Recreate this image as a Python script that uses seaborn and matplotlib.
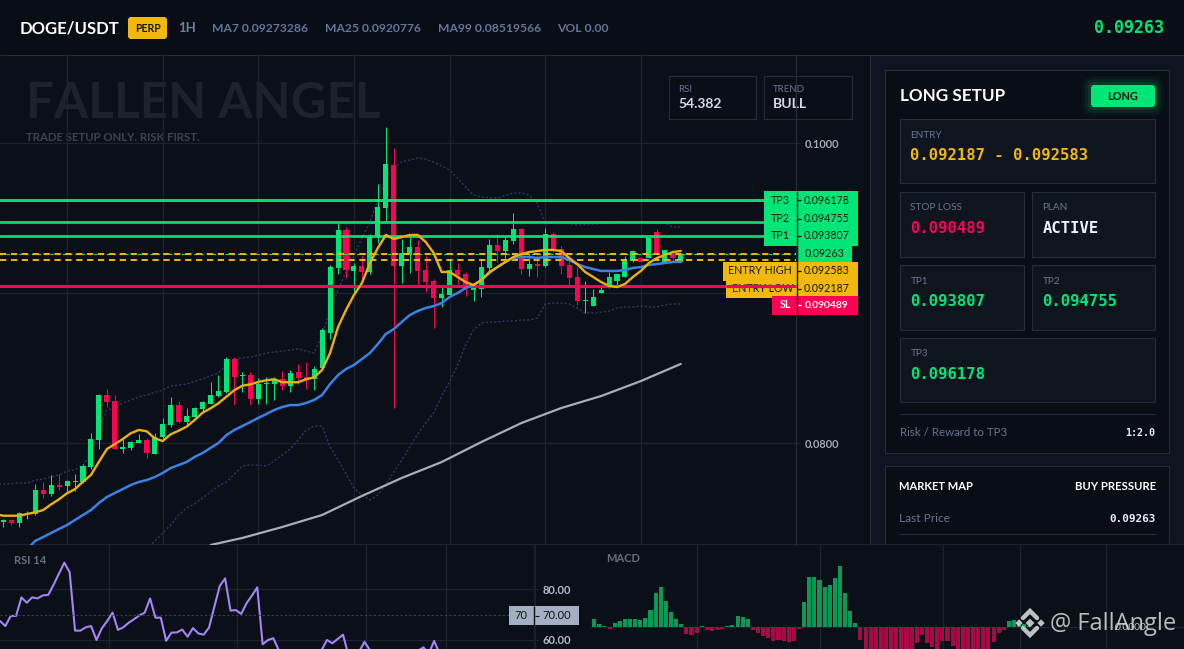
import numpy as np
import pandas as pd
import matplotlib
matplotlib.use("Agg")
import matplotlib.pyplot as plt
from matplotlib.patches import Rectangle, FancyBboxPatch
import seaborn as sns

# Candles, prices in 1e-5 USDT
open_ = [7475,7487,7467,7529,7527,7687,7658,7720,7713,7740,7742,7838,8020,8320,8280,7960,7967,8000,8020,7927,
         8040,8120,8253,8140,8173,8227,8260,8313,8340,8560,8449,8453,8293,8393,8393,8427,8380,8473,8440,8427,
         8500,8733,9167,9420,9147,9180,9140,9373,9567,9853,9180,9253,9307,9153,9080,8967,8987,9153,9127,9020,
         9027,9167,9320,9280,9347,9427,9160,9193,9180,9393,9293,9187,9107,8947,8913,9000,9033,9080,9107,9213,
         9233,9233,9407,9207,9260,9207]
high = [7493,7493,7540,7545,7727,7738,7787,7791,7753,7793,7860,8065,8327,8358,8320,8038,8013,8060,8033,8065,
        8165,8307,8280,8233,8242,8280,8407,8453,8573,8573,8473,8473,8433,8440,8440,8480,8487,8527,8540,8513,
        8767,9187,9469,9440,9200,9247,9393,9727,10107,9967,9360,9373,9353,9247,9093,9040,9220,9200,9140,9067,
        9220,9360,9393,9373,9533,9433,9267,9253,9433,9407,9313,9247,9173,9080,9027,9053,9140,9127,9247,9287,
        9233,9367,9427,9287,9287,9267]
low = [7442,7453,7442,7493,7520,7633,7647,7687,7669,7682,7731,7825,7960,8242,7960,7933,7953,8000,7900,7927,
       8027,8109,8133,8113,8173,8198,8260,8307,8333,8253,8340,8253,8260,8260,8287,8353,8340,8393,8360,8353,
       8487,8693,9127,9100,9007,9093,9127,9333,9480,8233,9067,9133,9053,9007,8767,8907,8987,9060,8980,8947,
       8973,9127,9207,9207,9327,9127,9113,9107,9173,9273,9127,9047,8920,8867,8913,9000,9033,9047,9107,9207,
       9207,9233,9260,9207,9207,9207]
close = [7487,7465,7531,7535,7687,7660,7720,7707,7747,7747,7847,8027,8320,8273,7960,7973,8007,8020,7933,8042,
         8127,8253,8140,8180,8233,8273,8320,8347,8560,8440,8455,8293,8393,8400,8420,8380,8467,8433,8420,8493,
         8753,9173,9420,9153,9180,9140,9380,9573,9860,9180,9267,9307,9147,9073,8967,8993,9153,9120,9033,9033,
         9173,9320,9280,9353,9427,9160,9193,9180,9393,9280,9180,9100,8947,8953,8973,9020,9107,9127,9227,9280,
         9207,9367,9267,9287,9233,9263]

# MA7 starts one candle left of the first visible candle
ma7 = [7527,7515,7515,7515,7527,7538,7553,7591,7625,7665,7693,7742,7787,7875,7960,7993,8027,8065,8087,8078,
       8031,8013,8058,8082,8109,8153,8202,8231,8265,8309,8353,8382,8391,8407,8418,8425,8405,8405,8405,8425,
       8438,8487,8600,8773,8887,8987,9067,9200,9300,9387,9360,9373,9387,9387,9340,9267,9140,9140,9107,9073,
       9053,9087,9140,9173,9207,9240,9260,9273,9280,9287,9287,9280,9233,9193,9140,9107,9073,9047,9040,9060,
       9107,9147,9200,9233,9253,9273,9280]
ma25 = [7293,7347,7373,7400,7427,7453,7487,7520,7553,7600,7640,7667,7693,7720,7740,7753,7773,7800,7833,7853,
        7873,7907,7933,7967,8000,8053,8087,8113,8140,8167,8193,8220,8240,8253,8253,8267,8287,8320,8393,8453,
        8493,8520,8560,8600,8660,8727,8760,8807,8853,8880,8900,8913,8933,8973,9000,9033,9053,9087,9133,9173,
        9207,9233,9240,9240,9233,9240,9240,9240,9220,9193,9173,9160,9147,9147,9147,9153,9167,9173,9187,9193,
        9200,9207,9207]
ma99_idx = [26,30,35,40,45,50,55,60,65,70,75,80,85]
ma99 = [7320,7367,7440,7520,7647,7767,7873,8007,8133,8233,8313,8413,8527]
upper_idx = [-1,0,2,3,4,5,7,8,9,10,11,12,13,14,15,17,18,20,21,23,25,27,28,29,31,33,35,37,39,40,41,42,43,44,45,46,47,48,
             49,50,51,52,53,54,55,56,57,58,59,60,62,64,65,66,67,68,69,70,72,76,79,83,84,85]
upper = [7727,7727,7733,7733,7753,7760,7787,7813,7820,7853,7933,8087,8220,8233,8267,8307,8320,8353,8380,8393,8427,
         8467,8520,8560,8573,8600,8613,8627,8600,8720,8887,9020,9140,9247,9367,9473,9620,9773,9840,9873,9887,9900,
         9893,9873,9847,9820,9767,9707,9653,9640,9633,9667,9667,9653,9600,9460,9467,9473,9453,9467,9473,9467,9440,9440]
lower = [7287,7347,7400,7453,7520,7567,7593,7633,7673,7713,7740,7793,7847,7853,7853,7847,7880,7920,7960,8020,8087,
         8113,8113,7973,7887,7793,7700,7653,7620,7653,7720,7807,7887,7973,8060,8133,8200,8313,8407,8520,8653,8753,
         8800,8807,8807,8813,8813,8820,8820,8833,8927,8933,8933,8927,8900,8867,8867,8873,8880,8900,8907,8907,8913,
         8907,8907,8920,8927,8927]

rsi = [67.5,65.5,69.5,69.5,76.8,74.7,76.8,76.4,77.6,77.8,81.8,86.2,90.5,86.7,63.7,63.7,65.0,65.5,60.0,64.6,
       67.5,70.8,64.0,65.0,66.8,68.2,69.7,70.8,76.4,68.8,68.8,59.7,62.9,63.0,64.1,61.3,64.7,62.6,62.1,64.9,
       73.2,81.3,84.3,71.6,71.8,70.3,74.5,77.5,80.8,58.3,60.0,60.7,56.0,55.0,54.0,53.0,54.0,52.0,53.0,54.0,
       56.0,60.0,58.7,60.4,62.1,54.0,51.0,55.4,59.3,56.0,52.0,51.0,52.0,53.0,52.0,51.0,53.0,54.0,55.8,57.1,
       54.7,59.6,54.7]
macd_hist = [25,10,4,-4,13,19,25,25,25,22,28,52,103,121,79,46,25,10,-20,-23,-17,4,-8,-11,-8,-6,4,7,34,31,25,
             -8,-17,-26,-32,-41,-38,-41,-44,-41,-5,76,151,151,142,121,127,148,184,103,49,13,-38,-68,-70,-75,-80,
             -78,-80,-80,-80,-75,-78,-47,-23,-47,-59,-70,-41,-41,-56,-70,-72,-72,-72,-72,-72,-70,-44,-17,-8,
             19,22,13,9,4]

entry_high, entry_low = 0.092583, 0.092187
stop_loss = 0.090489
tp_levels = [0.093807, 0.094755, 0.096178]
last_price = 0.09263
price_ticks = [0.10, 0.09, 0.08]

W, H = 1184, 649
BG = "#0a0f18"
GRID = "#1c222e"
BORDER = "#252d3d"
GREEN = "#00e676"
RED = "#ff0055"
YELLOW = "#f0b90b"
MUTED = "#66758f"

sns.set_theme(style="dark")
plt.rcParams["font.family"] = ["Lato", "DejaVu Sans"]
MONO = "DejaVu Sans Mono"

fig = plt.figure(figsize=(W / 100, H / 100), dpi=100, facecolor=BG)


def px_axes(x0, y0, x1, y1, zorder):
    ax = fig.add_axes([x0 / W, 1 - y1 / H, (x1 - x0) / W, (y1 - y0) / H], zorder=zorder)
    ax.patch.set_alpha(0)
    ax.grid(False)
    return ax


def box(ax, x0, y0, x1, y1, fc, ec="none", lw=1.0, **kw):
    ax.add_patch(Rectangle((x0, y0), x1 - x0, y1 - y0, fc=fc, ec=ec, lw=lw, **kw))


def badge(ax, x0, y0, x1, y1, fc, rad=3, **kw):
    ax.add_patch(FancyBboxPatch((x0 + rad, y0 + rad), x1 - x0 - 2 * rad, y1 - y0 - 2 * rad,
                                boxstyle=f"round,pad={rad},rounding_size={rad}", fc=fc, ec="none", **kw))


# Page layer: header, side cards
bg = px_axes(0, 0, W, H, -1)
bg.set_xlim(0, W)
bg.set_ylim(H, 0)
bg.axis("off")
box(bg, 0, 0, W, 55, "#090d16")
bg.hlines(55, 0, W, color=BORDER, lw=0.8)
box(bg, 870, 55, W, 545, "#0e1420")
bg.vlines(870, 55, 545, color=BORDER, lw=0.8)

bg.text(20, 28, "DOGE/USDT", color="white", fontsize=12, fontweight="bold", va="center")
badge(bg, 128, 17, 167, 39, YELLOW)
bg.text(147.5, 28, "PERP", color="#15120a", fontsize=7.6, fontweight="bold", va="center", ha="center")
bg.text(178, 27.5, "1H", color="#6d80a3", fontsize=9.5, fontweight="bold", va="center")
for x, s in [(212, "MA7 0.09273286"), (325, "MA25 0.0920776"), (438, "MA99 0.08519566"), (557, "VOL 0.00")]:
    bg.text(x, 28, s, color="#64779a", fontsize=8.7, fontweight="bold", va="center")
bg.text(1164, 28, "0.09263", color=GREEN, fontsize=12, fontweight="bold", family=MONO, va="center", ha="right")

bg.text(26, 103, "FALLEN ANGEL", color="#1c222c", fontsize=35.6, fontweight="bold", va="center")
bg.text(26, 137.5, "TRADE SETUP ONLY. RISK FIRST.", color="#3d4450", fontsize=8.2, fontweight="bold", va="center")

for x0, x1, head, val in [(669, 756, "RSI", "54.382"), (764, 852, "TREND", "BULL")]:
    box(bg, x0 - 0.5, 76, x1 - 0.5, 119, "#0a0e17", BORDER, 0.8)
    bg.text(x0 + 9, 89, head, color=MUTED, fontsize=7, va="center")
    bg.text(x0 + 9, 104, val, color="#d5dbe6", fontsize=10, fontweight="bold", va="center")

box(bg, 885, 70, 1169, 453, "#090d16", BORDER, 0.8)
bg.text(900, 96, "LONG SETUP", color="white", fontsize=12.3, fontweight="bold", va="center")
for grow, alpha in [(9, 0.05), (6, 0.07), (3, 0.1)]:
    badge(bg, 1091 - grow, 85 - grow, 1155 + grow, 107 + grow, GREEN, rad=3 + grow, alpha=alpha)
badge(bg, 1091, 85, 1155, 107, GREEN)
bg.text(1123, 96, "LONG", color="#06140d", fontsize=7.8, fontweight="bold", va="center", ha="center")

cards = [(899.5, 119, 1154.5, 183, "ENTRY", "0.092187 - 0.092583", YELLOW),
         (899.5, 192, 1023.5, 256.5, "STOP LOSS", "0.090489", RED),
         (1031.5, 192, 1154.5, 256.5, "PLAN", "ACTIVE", "#f0f4fa"),
         (899.5, 265, 1023.5, 329.5, "TP1", "0.093807", GREEN),
         (1031.5, 265, 1154.5, 329.5, "TP2", "0.094755", GREEN),
         (899.5, 338, 1154.5, 402, "TP3", "0.096178", GREEN)]
for x0, y0, x1, y1, head, val, col in cards:
    box(bg, x0, y0, x1, y1, "#0f151f", BORDER, 0.8)
    bg.text(x0 + 11, y0 + 16, head, color=MUTED, fontsize=7.2, va="center")
    bg.text(x0 + 11, y0 + 36.5, val, color=col, fontsize=11.2, fontweight="bold", family=MONO, va="center")
bg.hlines(414, 900, 1155, color=BORDER, lw=0.8)
bg.text(900, 432, "Risk / Reward to TP3", color=MUTED, fontsize=8.3, va="center")
bg.text(1155, 432.5, "1:2.0", color="#e8edf5", fontsize=7.2, fontweight="bold", family=MONO, va="center", ha="right")

box(bg, 885, 466, 1169, 560, "#090d16", BORDER, 0.8)
bg.text(899, 487, "MARKET MAP", color="white", fontsize=8, fontweight="bold", va="center")
bg.text(1156, 487, "BUY PRESSURE", color="white", fontsize=8.2, fontweight="bold", va="center", ha="right")
bg.text(899, 519, "Last Price", color=MUTED, fontsize=8.6, va="center")
bg.text(1156, 519, "0.09263", color="#e8edf5", fontsize=7.9, fontweight="bold", family=MONO, va="center", ha="right")
bg.hlines(534, 899, 1156, color=BORDER, lw=0.8)
box(bg, 0, 544, W, H, BG)
bg.hlines(544, 0, W, color=GRID, lw=0.8)

# Main price chart
ax = px_axes(0, 55, 796, 545, 2)
candles = pd.DataFrame({"open": open_, "high": high, "low": low, "close": close}) / 1e5
candles["i"] = np.arange(len(candles))
up = candles["close"] >= candles["open"]
for mask, col in [(up, GREEN), (~up, RED)]:
    part = candles[mask]
    ax.vlines(part["i"], part["low"], part["high"], color=col, lw=0.75, zorder=3)
    ax.bar(part["i"], (part["close"] - part["open"]).abs().clip(lower=0.00006),
           bottom=part[["open", "close"]].min(axis=1), width=0.63, color=col, lw=0, zorder=3)

for level, lw in zip(tp_levels, [2.0, 2.0, 2.2]):
    ax.axhline(level, xmax=764 / 796, color=GREEN, lw=lw, alpha=0.95, zorder=4)
ax.axhline(stop_loss, color=RED, lw=2.2, zorder=4)
ax.axhline(last_price, color=GREEN, lw=0.9, ls=(0, (2.5, 2.5)), zorder=4)
for level in [entry_high, entry_low]:
    ax.axhline(level, color=YELLOW, lw=1.4, ls=(0, (3.2, 2.4)), zorder=4)

band_color = "#3b2f6e"
sns.lineplot(x=upper_idx, y=np.array(upper) / 1e5, color=band_color, lw=1.0, ls=(0, (1.5, 1.5)), ax=ax, zorder=2.8)
sns.lineplot(x=np.arange(18, 86), y=np.array(lower) / 1e5, color=band_color, lw=1.0, ls=(0, (1.5, 1.5)), ax=ax, zorder=2.8)
sns.lineplot(x=ma99_idx, y=np.array(ma99) / 1e5, color="#a9aeb6", lw=1.6, ax=ax, zorder=5)
sns.lineplot(x=np.arange(3, 86), y=np.array(ma25) / 1e5, color="#3b82e6", lw=1.8, ax=ax, zorder=5)
sns.lineplot(x=np.arange(-1, 86), y=np.array(ma7) / 1e5, color="#efb008", lw=1.7, ax=ax, zorder=5.5)

ax.set_xlim(-3.3 / 7.97, 792.7 / 7.97)
ax.set_ylim(0.1 - 402 / 15000, 0.1 + 88 / 15000)
ax.set_xticks(np.arange(8, 81, 12))
ax.tick_params(axis="x", length=0, labelbottom=False)
ax.set_yticks(price_ticks, [f"{t:.4f}" for t in price_ticks])
ax.yaxis.tick_right()
ax.tick_params(axis="y", length=3, width=0.8, color=GRID, pad=3, labelsize=7.9, labelcolor="#a1abb9")
for t in ax.get_yticklabels():
    t.set_fontweight("bold")
ax.set_axisbelow(True)
ax.grid(True, color=GRID, lw=0.9)
ax.set(xlabel=None, ylabel=None)
for name, spine in ax.spines.items():
    spine.set_visible(name == "right")
    spine.set_color(BORDER)
    spine.set_linewidth(0.9)

# RSI panel
rsi_ax = px_axes(0, 545, 534.6, H, 2)
sns.lineplot(x=np.arange(len(rsi)), y=rsi, color="#a684f5", lw=1.5, ax=rsi_ax)
rsi_ax.set_xlim(0, 534.6 / 5.36)
rsi_ax.set_ylim(60 - 9 / 2.535, 80 + 44.3 / 2.535)
rsi_ax.axhline(70, color="#3a404c", lw=0.8, ls=(0, (2, 2)))
rsi_ax.set_xticks([20.3, 44.2, 68.2, 83.2])
rsi_ax.tick_params(axis="x", length=0, labelbottom=False)
rsi_ax.set_yticks([60, 80], ["60.00", "80.00"])
rsi_ax.yaxis.tick_right()
rsi_ax.tick_params(axis="y", length=3, width=0.8, color=GRID, pad=3, labelsize=8, labelcolor="#b4bcc8")
for t in rsi_ax.get_yticklabels():
    t.set_fontweight("bold")
rsi_ax.set_axisbelow(True)
rsi_ax.grid(True, color=GRID, lw=0.9)
rsi_ax.set(xlabel=None, ylabel=None)
for name, spine in rsi_ax.spines.items():
    spine.set_visible(name == "right")
    spine.set_color(GRID)

# MACD histogram
macd_ax = px_axes(590, 545, W, H, 2)
macd = pd.DataFrame({"i": np.arange(len(macd_hist)), "hist": macd_hist})
macd["side"] = np.where(macd["hist"] >= 0, "up", "down")
sns.barplot(data=macd, x="i", y="hist", hue="side", palette={"up": "#0b9a55", "down": "#a90a45"},
            dodge=False, legend=False, native_scale=True, width=0.8, saturation=1, linewidth=0, ax=macd_ax)
macd_ax.set_xlim(-4.2 / 5.12, 589.8 / 5.12)
macd_ax.set_ylim(-21.7 * 3, 82.3 * 3)
macd_ax.set_xticks([20, 44.1, 68.2, 83.2, 100])
macd_ax.set_yticks([0])
macd_ax.tick_params(length=0, labelbottom=False, labelleft=False)
macd_ax.set_axisbelow(True)
macd_ax.grid(True, color=GRID, lw=0.9)
macd_ax.set(xlabel=None, ylabel=None)
for spine in macd_ax.spines.values():
    spine.set_visible(False)

# Labels on top of the charts
ov = px_axes(0, 0, W, H, 10)
ov.set_xlim(0, W)
ov.set_ylim(H, 0)
ov.axis("off")


def py(price):
    return H - ax.transData.transform((0, price))[1]


DARK = "#10160f"
VALUE_X = 826.5
LABEL_SIZE = 7.7
box(ov, 764, 191, 858, 246, GREEN)
for level, name, y in zip(tp_levels[::-1], ["TP3", "TP2", "TP1"], [200, 219, 235.7]):
    ov.text(780, y, name, color=DARK, fontsize=LABEL_SIZE, va="center", ha="center")
    ov.text(VALUE_X, y, f"{level:.6f}", color=DARK, fontsize=LABEL_SIZE, va="center", ha="center")
    ov.hlines(y, 797, 801, color=DARK, lw=0.9, zorder=6)
box(ov, 797, 246, 852, 262, GREEN)
ov.text(824.5, 253.8, f"{last_price:.5f}", color=DARK, fontsize=LABEL_SIZE, va="center", ha="center")
for level, name, x0, top, bottom, lab_x, y in [(entry_high, "ENTRY HIGH", 723, 262, 281, 760, 271),
                                               (entry_low, "ENTRY LOW", 726, 280.5, 297.5, 762.5, 288.5)]:
    box(ov, x0, top, 858, bottom, YELLOW)
    ov.text(lab_x, y, name, color=DARK, fontsize=LABEL_SIZE, va="center", ha="center")
    ov.text(VALUE_X, y, f"{level:.6f}", color=DARK, fontsize=LABEL_SIZE, va="center", ha="center")
    ov.hlines(y, 797, 801, color=DARK, lw=0.9, zorder=6)
box(ov, 772, 296, 858, 315, RED)
ov.text(785, 305, "SL", color="white", fontsize=LABEL_SIZE, fontweight="bold", va="center", ha="center")
ov.text(VALUE_X, 305, f"{stop_loss:.6f}", color="white", fontsize=7.4, fontweight="bold", va="center", ha="center")
ov.hlines(305, 797, 801, color="white", lw=0.9, zorder=6)
ov.vlines(796.5, 191, 315, color=BG, lw=1.0, zorder=6)
ov.hlines(py(stop_loss), 726, 796, color=RED, lw=2.2, zorder=6)

box(ov, 509, 606, 579, 625, "#a3afc2")
ov.vlines(534, 606, 625, color=BG, lw=1.0)
ov.hlines(615.5, 535, 539, color=DARK, lw=0.8)
ov.text(521, 615.5, "70", color=DARK, fontsize=8, va="center", ha="center")
ov.text(556.5, 615.5, "70.00", color=DARK, fontsize=8, va="center", ha="center")
ov.text(14, 560, "RSI 14", color="#667080", fontsize=8, fontweight="bold", va="center")
ov.text(606, 559, "MACD", color="#667080", fontsize=8, fontweight="bold", va="center")
ov.text(1131, 627, "0.0000", color="#c5c9cf", fontsize=7.5, va="center", ha="center")

# Watermark
mark = "#d2d5d9"
lx, ly = 1030, 623
ov.plot([lx - 7, lx, lx + 7], [ly - 5, ly - 12, ly - 5], color=mark, lw=3.2, solid_joinstyle="miter", alpha=0.9)
ov.plot([lx - 7, lx, lx + 7], [ly + 5, ly + 12, ly + 5], color=mark, lw=3.2, solid_joinstyle="miter", alpha=0.9)
ov.scatter([lx - 11, lx, lx + 11], [ly, ly, ly], marker="D", s=[14, 20, 14], color=mark, lw=0, alpha=0.9)
ov.text(1050, 624, "@ FallAngle", color=mark, fontsize=17, family="Open Sans", va="center", alpha=0.88)

fig.savefig("out.png", dpi=100, facecolor=fig.get_facecolor())
